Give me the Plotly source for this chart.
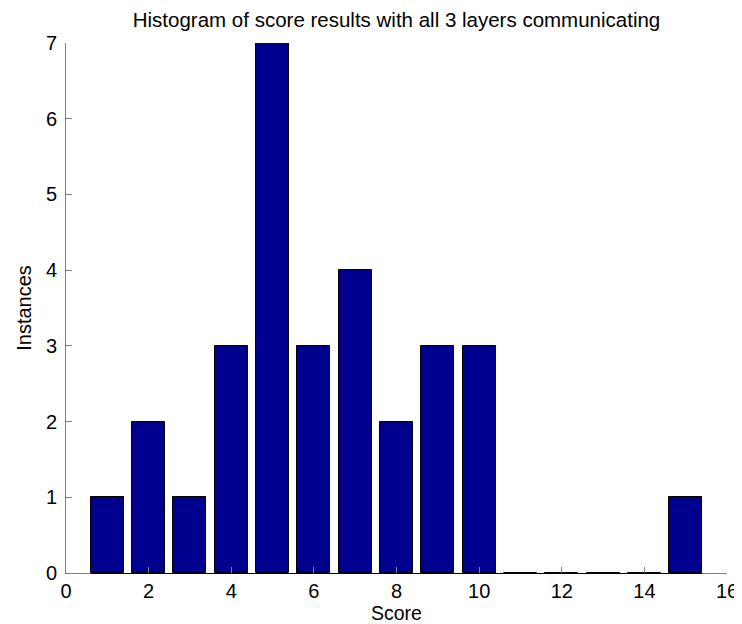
import plotly.graph_objects as go

scores = list(range(1, 16))
instances = [1, 2, 1, 3, 7, 3, 4, 2, 3, 3, 0, 0, 0, 0, 1]
x_ticks = list(range(0, 17, 2))
y_ticks = list(range(0, 8))

BAR_W = 0.8
FONT = "Liberation Sans, Arial, Helvetica, sans-serif"

fig = go.Figure()
fig.add_trace(go.Bar(
    x=scores, y=instances, width=BAR_W,
    marker=dict(color="#00008F", line=dict(color="black", width=1)),
    showlegend=False, hoverinfo="x+y",
))

# bar baseline (black) spanning from first to last bar edge
fig.add_shape(type="line", xref="x", yref="paper",
              x0=min(scores) - BAR_W / 2, x1=max(scores) + BAR_W / 2,
              ysizemode="pixel", yanchor=0, y0=-0.5, y1=-0.5,
              layer="above", line=dict(color="black", width=1))

fig.update_layout(
    width=742, height=624,
    margin=dict(l=58, r=13, t=35, b=59),
    paper_bgcolor="white", plot_bgcolor="white",
    font=dict(family=FONT, size=20, color="black"),
    title=dict(text="Histogram of score results with all 3 layers communicating",
               x=0.5, xref="paper", y=1 - 12 / 624, yref="container",
               yanchor="middle", xanchor="center",
               font=dict(family=FONT, size=20.5, color="black")),
    bargap=0,
)
fig.update_xaxes(
    range=[0, 16], tickmode="array", tickvals=x_ticks,
    ticks="inside", ticklen=6, tickcolor="#7f7f7f",
    showline=True, linecolor="#7f7f7f", linewidth=1,
    showgrid=False, zeroline=False, mirror=False,
    tickfont=dict(size=20),
    title=dict(text="Score", standoff=3, font=dict(size=19.5)),
)
fig.update_yaxes(
    range=[0, 7], tickmode="array", tickvals=y_ticks,
    ticks="inside", ticklen=6, tickcolor="#7f7f7f",
    showline=True, linecolor="#7f7f7f", linewidth=1,
    showgrid=False, zeroline=False, mirror=False,
    ticklabelstandoff=4, tickfont=dict(size=20),
    title=dict(text="Instances", standoff=8, font=dict(size=20)),
)
fig.write_html("out.html")
